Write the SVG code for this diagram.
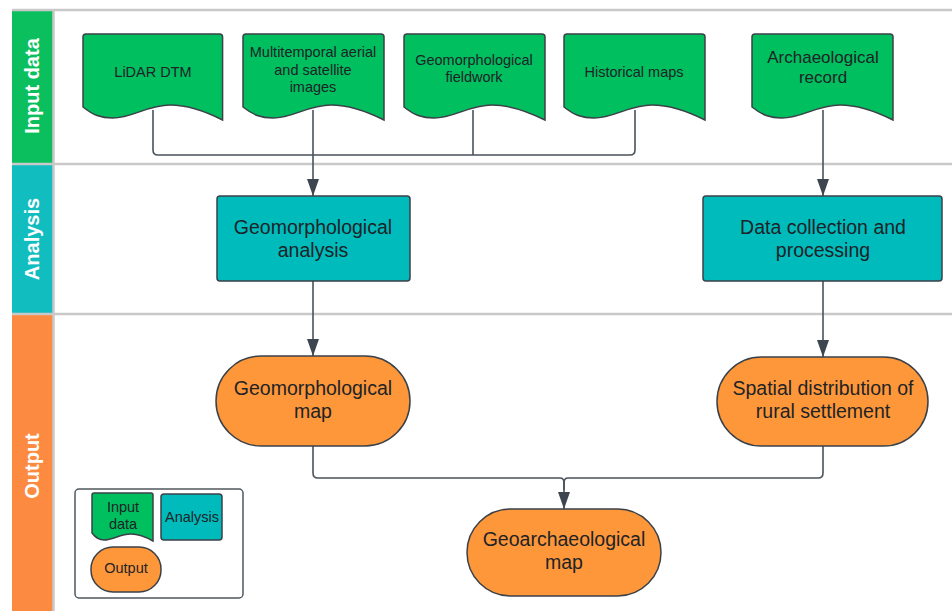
<svg xmlns="http://www.w3.org/2000/svg" width="952" height="611" viewBox="0 0 952 611">
<style>
.lane{stroke:#c9c9c9;stroke-width:2.5;fill:none}
.hdr{font-family:"Liberation Sans",Arial,sans-serif;font-weight:bold;font-size:20px;fill:#ffffff;text-anchor:middle}
.doc{fill:#00bf5e;stroke:#3a4148;stroke-width:1.5}
.ana{fill:#00bbbc;stroke:#3a4148;stroke-width:1.5}
.out{fill:#fd9739;stroke:#3a4148;stroke-width:1.5}
.t{font-family:"Liberation Sans",Arial,sans-serif;fill:#1e2327;text-anchor:middle}
.s14{font-size:14.5px}
.s17{font-size:17px}
.s19{font-size:19.5px}
.conn{fill:none;stroke:#4a525a;stroke-width:1.6}
.arr{marker-end:url(#ah)}
</style>
<defs>
<marker id="ah" viewBox="0 0 12 17" refX="6" refY="17" markerWidth="12" markerHeight="17" markerUnits="userSpaceOnUse" orient="0">
<path d="M0,0 L12,0 L6,17 Z" fill="#3d454e"/>
</marker>
<path id="docshape" d="M3,0 H138 Q141,0 141,3 V86 C123,77 106,71 88,71 C65,71 50,84 30,84 C18,84 10,81 0,73 V3 Q0,0 3,0 Z"/>
</defs>
<rect x="0" y="0" width="952" height="611" fill="#ffffff"/>
<g id="lanes">
<rect x="12" y="11" width="41" height="152" fill="#0cbf5e"/>
<rect x="12" y="165" width="41" height="148" fill="#12bdbf"/>
<rect x="12" y="315" width="41" height="296" fill="#fd8a41"/>
<line class="lane" x1="12" y1="10" x2="952" y2="10"/>
<line class="lane" x1="12" y1="164" x2="952" y2="164"/>
<line class="lane" x1="12" y1="314" x2="952" y2="314"/>
<line class="lane" x1="53.5" y1="10" x2="53.5" y2="611"/>
<text class="hdr" transform="translate(39,86) rotate(-90)">Input data</text>
<text class="hdr" transform="translate(39,239) rotate(-90)">Analysis</text>
<text class="hdr" transform="translate(39,466) rotate(-90)">Output</text>
</g>
<g id="connectors">
<path class="conn" d="M153,110 V150 Q153,155 158,155 H630 Q635,155 635,150 V110"/>
<path class="conn" d="M473,110 V155"/>
<path class="conn arr" d="M313,110 V196"/>
<path class="conn arr" d="M823,110 V196"/>
<path class="conn arr" d="M313,281 V356"/>
<path class="conn arr" d="M823,281 V357"/>
<path class="conn" d="M313,446 V473 Q313,478 318,478 H560 Q564,478 564,483 V490"/>
<path class="conn arr" d="M823,446 V473 Q823,478 818,478 H568 Q564,478 564,483 V509"/>
</g>
<g id="lidar">
<use href="#docshape" class="doc" transform="translate(83,34) scale(0.99,1)"/>
<text class="t s14" x="153" y="77">LiDAR DTM</text>
</g>
<g id="multitemporal">
<use href="#docshape" class="doc" transform="translate(243,34)"/>
<text class="t s14" x="313" y="57">Multitemporal aerial</text>
<text class="t s14" x="313" y="75">and satellite</text>
<text class="t s14" x="313" y="92">images</text>
</g>
<g id="fieldwork">
<use href="#docshape" class="doc" transform="translate(404,34)"/>
<text class="t s14" x="474" y="65">Geomorphological</text>
<text class="t s14" x="474" y="82">fieldwork</text>
</g>
<g id="historical">
<use href="#docshape" class="doc" transform="translate(564,34)"/>
<text class="t s14" x="634" y="77">Historical maps</text>
</g>
<g id="archaeological">
<use href="#docshape" class="doc" transform="translate(752,34)"/>
<text class="t s17" x="823" y="63">Archaeological</text>
<text class="t s17" x="823" y="83">record</text>
</g>
<g id="geo-analysis">
<rect class="ana" x="217" y="196" width="193" height="85" rx="3"/>
<text class="t s19" x="313" y="234">Geomorphological</text>
<text class="t s19" x="313" y="257">analysis</text>
</g>
<g id="data-collection">
<rect class="ana" x="703" y="196" width="239" height="85" rx="3"/>
<text class="t s19" x="823" y="234">Data collection and</text>
<text class="t s19" x="823" y="257">processing</text>
</g>
<g id="geo-map">
<rect class="out" x="216" y="356" width="194" height="90" rx="45"/>
<text class="t s19" x="313" y="395">Geomorphological</text>
<text class="t s19" x="313" y="418">map</text>
</g>
<g id="spatial">
<rect class="out" x="717" y="357" width="211" height="89" rx="44.5"/>
<text class="t s19" x="823" y="395">Spatial distribution of</text>
<text class="t s19" x="823" y="418">rural settlement</text>
</g>
<g id="geoarch-map">
<rect class="out" x="467" y="509" width="194" height="87" rx="43.5"/>
<text class="t s19" x="564" y="546">Geoarchaeological</text>
<text class="t s19" x="564" y="569">map</text>
</g>
<g id="legend">
<rect x="75" y="489" width="168" height="109" rx="4" fill="#ffffff" stroke="#50575e" stroke-width="1.5"/>
<path class="doc" d="M94,493 H151 Q153,493 153,495 V541 C146,537 139,534 131,534 C120,534 113,540 104,540 C99,540 95,537 92,533 V495 Q92,493 94,493 Z"/>
<text class="t s14" x="123" y="512">Input</text>
<text class="t s14" x="123" y="529">data</text>
<rect class="ana" x="161" y="494" width="61" height="46" rx="3"/>
<text class="t s14" x="192" y="522">Analysis</text>
<rect class="out" x="91" y="547" width="70" height="45" rx="22"/>
<text class="t s14" x="126" y="573">Output</text>
</g>
</svg>
